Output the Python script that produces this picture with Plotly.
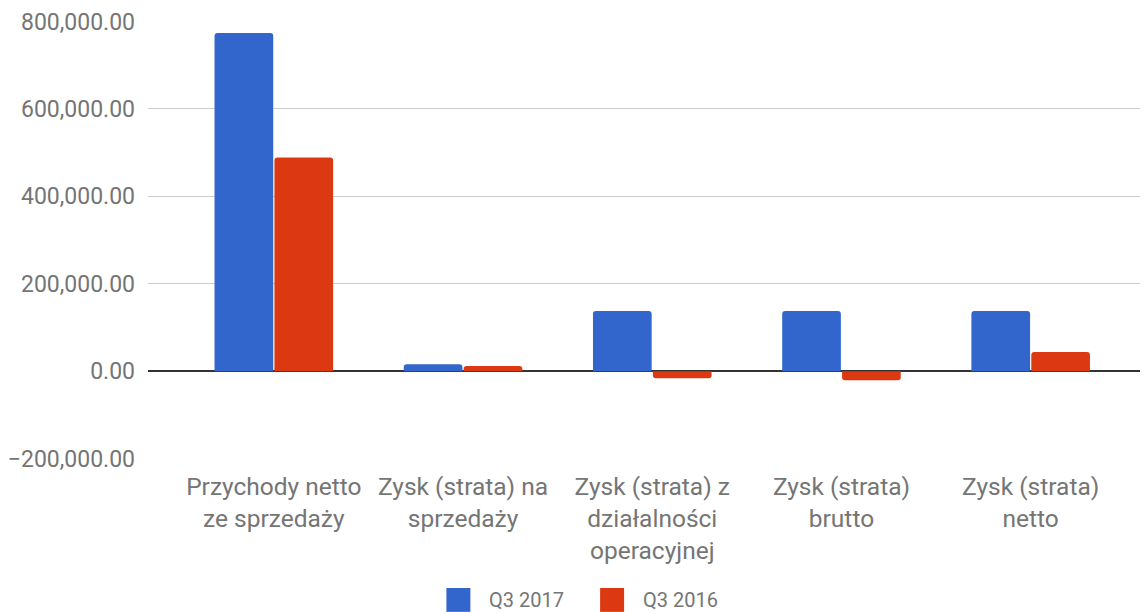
import plotly.graph_objects as go

categories = [
    "Przychody netto<br>ze sprzedaży",
    "Zysk (strata) na<br>sprzedaży",
    "Zysk (strata) z<br>działalności<br>operacyjnej",
    "Zysk (strata)<br>brutto",
    "Zysk (strata)<br>netto",
]
series_names = ["Q3 2017", "Q3 2016"]
q3_2017 = [773500, 16000, 137500, 137500, 137500]
q3_2016 = [489000, 11500, -16000, -21000, 43500]

colors = ["#3366CC", "#DC3912"]
gray = "#757575"
font = "Roboto"

fig = go.Figure()

for name, vals, col in zip(series_names, [q3_2017, q3_2016], colors):
    fig.add_trace(go.Bar(
        name=name,
        x=categories,
        y=vals,
        marker=dict(color=col, cornerradius=3, line=dict(width=0)),
        showlegend=False,
    ))

# legenda na dole (kwadraty jak w Google Charts)
legend_x = [0.2984, 0.4521]
for lx, name, col in zip(legend_x, series_names, colors):
    fig.add_shape(
        type="rect", xref="paper", yref="paper",
        x0=lx, x1=lx + 0.024, y0=-0.349, y1=-0.2945,
        fillcolor=col, line=dict(width=0),
    )
    fig.add_annotation(
        xref="paper", yref="paper",
        x=lx + 0.041, y=-0.3219,
        xanchor="left", yanchor="middle",
        text=name, showarrow=False,
        font=dict(size=20, color=gray, family=font),
    )

fig.update_layout(
    width=1140,
    height=604,
    margin=dict(l=138, r=0, t=13, b=153),
    paper_bgcolor="white",
    plot_bgcolor="white",
    barmode="group",
    bargap=0.367,
    bargroupgap=0.02,
    font=dict(family=font, size=23, color=gray),
    showlegend=False,
    xaxis=dict(
        range=[-0.665, 4.62],
        showgrid=False,
        showline=False,
        ticks="outside",
        ticklen=6,
        tickcolor="rgba(0,0,0,0)",
        tickfont=dict(size=24.5, color=gray),
    ),
    yaxis=dict(
        range=[-201000, 801000],
        dtick=200000,
        tick0=0,
        tickformat=",.2f",
        showgrid=True,
        gridcolor="#cccccc",
        gridwidth=1,
        zeroline=True,
        zerolinecolor="#333333",
        zerolinewidth=2,
        showline=False,
        ticklabelstandoff=12,
        tickfont=dict(size=23, color=gray),
    ),
)

fig.write_html("out.html")
